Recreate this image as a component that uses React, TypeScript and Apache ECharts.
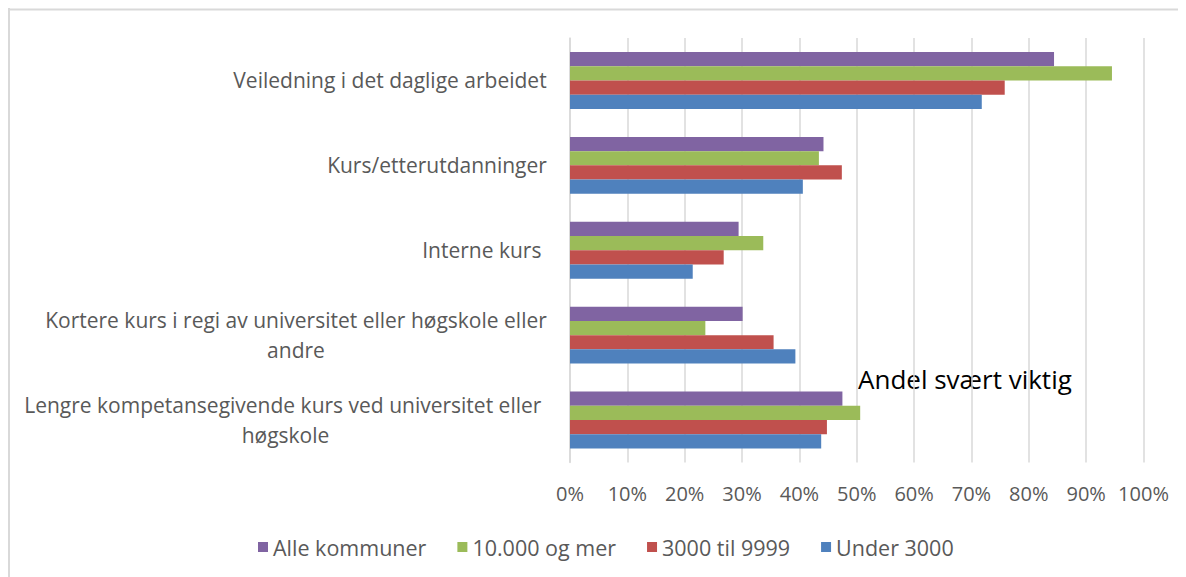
import React, { useEffect, useRef } from "react";
import * as echarts from "echarts";

const categories = [
  "Veiledning i det daglige arbeidet",
  "Kurs/etterutdanninger",
  "Interne kurs ",
  "Kortere kurs i regi av universitet eller høgskole eller\nandre",
  "Lengre kompetansegivende kurs ved universitet eller \nhøgskole",
];
const seriesNames = ["Alle kommuner", "10.000 og mer", "3000 til 9999", "Under 3000"];
const alleKommuner = [84.4, 44.2, 29.4, 30.1, 47.5];
const tiTusenOgMer = [94.5, 43.4, 33.7, 23.6, 50.6];
const tretusenTil9999 = [75.8, 47.4, 26.8, 35.5, 44.8];
const under3000 = [71.8, 40.6, 21.4, 39.3, 43.8];
const titleText = "Andel svært viktig";

const FONT = '"Open Sans", sans-serif';
const FS_CAT = 21;
const FS_AXIS = 20;
const FS_LEG = 21.5;
const GREY = "#595959";
const GRID = "#d9d9d9";

export default function App() {
  const ref = useRef<HTMLDivElement>(null);
  useEffect(() => {
    if (!ref.current) return;
    const chart = echarts.init(ref.current, undefined, { renderer: "svg" });
    const canvas = document.createElement("canvas");
    const ctx = canvas.getContext("2d")!;
    ctx.font = `${FS_CAT}px "Open Sans"`;
    const rich: Record<string, any> = {};
    categories.forEach((c, i) => {
      const w = Math.max(...c.split("\n").map((l) => ctx.measureText(l).width));
      rich["c" + i] = {
        width: Math.ceil(w),
        align: "center",
        fontSize: FS_CAT,
        fontFamily: FONT,
        color: GREY,
        lineHeight: 30,
      };
    });
    const colors = ["#8064A2", "#9BBB59", "#C0504D", "#4F81BD"];
    const data = [alleKommuner, tiTusenOgMer, tretusenTil9999, under3000];
    const order = [0, 1, 2, 3];
    chart.setOption({
      animation: false,
      textStyle: { fontFamily: FONT },
      grid: { left: 562, right: 42.5, top: 30, bottom: 114.5, containLabel: false },
      legend: {
        data: seriesNames,
        left: 245,
        top: 523,
        icon: "rect",
        itemWidth: 10,
        itemHeight: 10,
        itemGap: 31,
        textStyle: { fontSize: FS_LEG, color: GREY, fontFamily: FONT },
      },
      xAxis: {
        type: "value",
        min: 0,
        max: 100,
        interval: 10,
        axisLine: { show: false },
        axisTick: { show: false },
        splitLine: { lineStyle: { color: GRID, width: 1.5 } },
        axisLabel: { formatter: "{value}%", fontSize: FS_AXIS, color: GREY, margin: 21, fontFamily: FONT },
      },
      yAxis: {
        type: "category",
        inverse: true,
        data: categories,
        axisLine: { lineStyle: { color: GRID, width: 1.5 } },
        axisTick: { show: false },
        axisLabel: {
          margin: 23,
          align: "right",
          formatter: (v: string) => {
            const i = categories.indexOf(v);
            return v.split("\n").map((l) => `{c${i}|${l}}`).join("\n");
          },
          rich,
        },
      },
      series: order.map((k) => ({
        name: seriesNames[k],
        type: "bar",
        data: data[k],
        barGap: "0%",
        barCategoryGap: "33%",
        itemStyle: { color: colors[k] },
      })),
      graphic: [
        { type: "line", shape: { x1: 1, y1: 0, x2: 1, y2: 569 }, style: { stroke: GRID, lineWidth: 2 } },
        { type: "line", shape: { x1: 0, y1: 1.5, x2: 1178, y2: 1.5 }, style: { stroke: GRID, lineWidth: 2 } },
        {
          type: "text",
          left: 850,
          top: 358,
          style: { text: titleText, fontSize: 26, fill: "#000", fontFamily: FONT },
        },
      ],
    });
    return () => chart.dispose();
  }, []);
  return <div ref={ref} style={{ width: 1178, height: 569 }} />;
}
